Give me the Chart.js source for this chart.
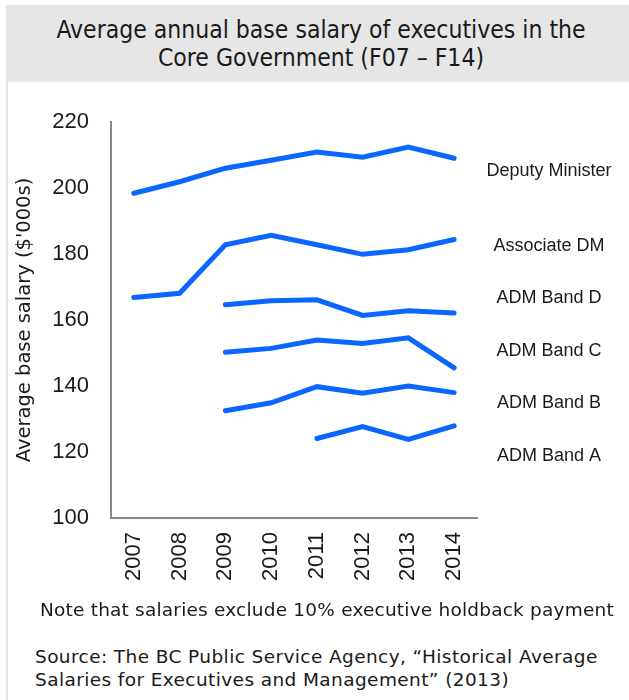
<!DOCTYPE html>
<html>
<head>
<meta charset="utf-8">
<script src="https://cdn.jsdelivr.net/npm/chart.js@4.4.1/dist/chart.umd.min.js"></script>
<style>
   html, body { margin: 0; padding: 0; background: #fff; }
   body { width: 629px; height: 700px; position: relative; overflow: hidden; }
   .panel-edge { position: absolute; left: 6px; top: 5px; width: 2px; height: 695px; background: #e2e2e2; }
   .title-band {
      position: absolute; left: 7px; top: 5px; width: 622px; height: 77px;
      background: #e6e6e6; color: #1a1a1a;
      font-family: "DejaVu Sans Condensed", "DejaVu Sans", sans-serif; font-size: 24.5px; line-height: 28px;
      text-align: center; display: flex; align-items: center; justify-content: center;
      padding-left: 6px; box-sizing: border-box;
   }
   .chart-box { position: absolute; left: 0; top: 100px; width: 629px; height: 500px; }
   .note, .source {
      position: absolute; color: #1a1a1a; white-space: nowrap;
      font-family: "DejaVu Sans", sans-serif; font-size: 18.5px;
   }
   .note { left: 40px; top: 598px; line-height: 24px; letter-spacing: 0.2px; }
   .source { left: 35px; top: 645px; line-height: 23px; letter-spacing: 0.4px; }
</style>
</head>
<body>
<div class="panel-edge"></div>
<div class="title-band">Average annual base salary of executives in the<br>Core Government (F07 – F14)</div>
<div class="chart-box"><canvas id="salaryChart" width="629" height="500"></canvas></div>
<div class="note">Note that salaries exclude 10% executive holdback payment</div>
<div class="source">Source: The BC Public Service Agency, “Historical Average<br>Salaries for Executives and Management” (2013)</div>

<script>
const years = ["2007", "2008", "2009", "2010", "2011", "2012", "2013", "2014"];
const yTicks = [100, 120, 140, 160, 180, 200, 220];

const seriesNames = ["Deputy Minister", "Associate DM", "ADM Band D", "ADM Band C", "ADM Band B", "ADM Band A"];
const deputyMinister = [198.4, 201.9, 206.0, 208.4, 210.9, 209.3, 212.4, 209.0];
const associateDm = [166.8, 168.1, 182.8, 185.7, 182.8, 179.9, 181.3, 184.4];
const admBandD = [null, null, 164.6, 165.8, 166.1, 161.4, 162.8, 162.1];
const admBandC = [null, null, 150.2, 151.4, 153.9, 152.9, 154.6, 145.5];
const admBandB = [null, null, 132.5, 134.9, 139.8, 137.8, 140.0, 138.0];
const admBandA = [null, null, null, null, 124.1, 127.7, 123.8, 127.9];

// where each series name sits on the y scale (right-hand labels)
const labelAnchors = [205.2, 182.5, 166.8, 150.7, 134.9, 118.9];

const lineBlue = "#0a66ff";
const textColor = "#1a1a1a";

const seriesLabelsPlugin = {
   id: "seriesLabels",
   afterDatasetsDraw(chart) {
      const { ctx, chartArea, scales } = chart;
      ctx.save();
      ctx.fillStyle = textColor;
      ctx.font = "18px 'Liberation Sans', Arial, sans-serif";
      ctx.textAlign = "center";
      ctx.textBaseline = "middle";
      seriesNames.forEach((name, i) => {
         ctx.fillText(name, chartArea.right + 72, scales.y.getPixelForValue(labelAnchors[i]));
      });
      ctx.restore();
   }
};

function makeSeries(label, data) {
   return {
      label,
      data,
      borderColor: lineBlue,
      backgroundColor: lineBlue,
      borderWidth: 5,
      borderCapStyle: "round",
      borderJoinStyle: "miter",
      pointRadius: 0,
      pointHoverRadius: 0,
      tension: 0,
      spanGaps: false
   };
}

new Chart(document.getElementById("salaryChart"), {
   type: "line",
   data: {
      labels: years,
      datasets: [
         makeSeries(seriesNames[0], deputyMinister),
         makeSeries(seriesNames[1], associateDm),
         makeSeries(seriesNames[2], admBandD),
         makeSeries(seriesNames[3], admBandC),
         makeSeries(seriesNames[4], admBandB),
         makeSeries(seriesNames[5], admBandA)
      ]
   },
   options: {
      responsive: false,
      animation: false,
      layout: {
         padding: { top: 22, right: 152, bottom: 0, left: 0 }
      },
      plugins: {
         legend: { display: false },
         tooltip: { enabled: false }
      },
      scales: {
         x: {
            offset: true,
            grid: { display: false, drawTicks: false },
            border: { display: true, color: "#878787", width: 2 },
            ticks: {
               color: textColor,
               font: { family: "'Liberation Sans', Arial, sans-serif", size: 22 },
               maxRotation: 90,
               minRotation: 90,
               padding: 14,
               autoSkip: false
            },
            afterFit(scale) {
               scale.height = 82;
            }
         },
         y: {
            min: yTicks[0],
            max: yTicks[yTicks.length - 1],
            afterBuildTicks(scale) {
               scale.ticks = yTicks.map((value) => ({ value }));
            },
            grid: { display: false, drawTicks: false },
            border: { display: true, color: "#878787", width: 2 },
            ticks: {
               color: textColor,
               font: { family: "'Liberation Sans', Arial, sans-serif", size: 22 },
               padding: 22
            },
            title: {
               display: true,
               text: "Average base salary ($'000s)",
               color: textColor,
               font: { family: "'DejaVu Sans', sans-serif", size: 19.5 },
               padding: { top: 13, bottom: 0 }
            },
            afterFit(scale) {
               scale.width = 111;
               // tick padding would otherwise push the plot area down
               scale.paddingTop = 0;
               scale.paddingBottom = 0;
            }
         }
      }
   },
   plugins: [seriesLabelsPlugin]
});
</script>
</body>
</html>
